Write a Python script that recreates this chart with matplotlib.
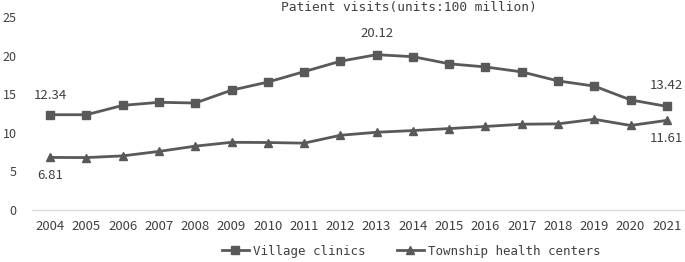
import matplotlib.pyplot as plt

years = [str(y) for y in range(2004, 2022)]
village = [12.34, 12.34, 13.55, 13.95, 13.86, 15.52, 16.57, 17.92, 19.27, 20.12,
           19.86, 18.94, 18.53, 17.89, 16.72, 16.05, 14.26, 13.42]
township = [6.81, 6.79, 7.01, 7.59, 8.27, 8.77, 8.74, 8.66, 9.68, 10.07,
            10.29, 10.55, 10.82, 11.11, 11.16, 11.75, 10.95, 11.61]

plt.rcParams['font.family'] = ['Noto Sans CJK SC', 'DejaVu Sans']
col = '#595959'

fig = plt.figure(figsize=(6.85, 2.62), dpi=100)
ax = fig.add_axes([32/685, 52/262, 653/685, 193/262])
x = range(len(years))
ax.plot(x, village, color=col, lw=2, marker='s', ms=6, label='Village clinics')
ax.plot(x, township, color=col, lw=2, marker='^', ms=6, label='Township health centers')

ax.set_xlim(-0.5, len(years) - 0.5)
ax.set_ylim(0, 25)
ax.set_yticks([0, 5, 10, 15, 20, 25])
ax.set_xticks(list(x))
ax.set_xticklabels(years)
for s in ['top', 'right', 'left']:
    ax.spines[s].set_visible(False)
ax.spines['bottom'].set_color('#d9d9d9')
ax.spines['bottom'].set_linewidth(1)
ax.tick_params(length=0, labelsize=9.5, colors='#404040')
ax.tick_params(axis='y', pad=11, labelsize=9)
ax.tick_params(axis='x', pad=7)

# data labels
def lab(i, vals, dy):
    ax.annotate('%.2f' % vals[i], (i, vals[i]), xytext=(0, dy), textcoords='offset points',
                ha='center', va='center', fontsize=9.5, color='#404040')

lab(0, village, 14)
lab(9, village, 15)
lab(17, village, 15)
lab(0, township, -13)
lab(17, township, -13)

fig.text(409/685, 1 - 8/262, 'Patient visits(units:100 million)', ha='center', va='center',
         fontsize=9.3, family='DejaVu Sans Mono', color='#404040')

fig.legend(loc='center', bbox_to_anchor=(411/685, 11/262), ncol=2, frameon=False,
           prop={'family': 'DejaVu Sans Mono', 'size': 9}, handlelength=2.2,
           columnspacing=2.5, handletextpad=0.3, labelcolor='#404040')

fig.savefig('out.png', dpi=100)
